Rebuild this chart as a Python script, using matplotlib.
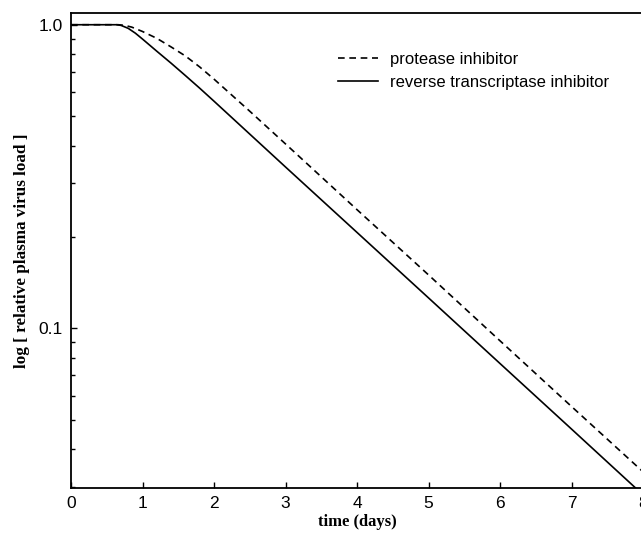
import matplotlib
matplotlib.use("Agg")
import matplotlib.pyplot as plt
from matplotlib.ticker import FixedLocator, FixedFormatter, NullFormatter

# values
t_pi = [0, 0.66, 0.75, 0.85, 1.0, 1.2, 1.4, 1.6, 1.8, 2.0, 2.5, 3.0, 4.0, 5.0, 6.0, 7.0, 8.0]
v_pi = [1.0, 1.0, 0.995, 0.982, 0.950, 0.902, 0.845, 0.789, 0.726, 0.662, 0.519,
        0.405, 0.246, 0.150, 0.0910, 0.0553, 0.0337]

t_rti = [0, 0.64, 0.7, 0.8, 0.9, 1.0, 1.2, 1.4, 1.6, 1.8, 2.0, 3.0, 4.0, 5.0, 6.0, 7.0, 8.0]
v_rti = [1.0, 1.0, 0.995, 0.973, 0.938, 0.897, 0.818, 0.747, 0.680, 0.618, 0.560,
         0.340, 0.207, 0.126, 0.0766, 0.0466, 0.0283]

labels = ["protease inhibitor", "reverse transcriptase inhibitor"]
xticks = [0, 1, 2, 3, 4, 5, 6, 7, 8]
yticks = [0.1, 1.0]
yticklabels = ["0.1", "1.0"]

plt.rcParams["font.family"] = ["Liberation Sans", "DejaVu Sans"]

fig = plt.figure(figsize=(6.41, 5.33), dpi=100)
W, H = 641, 533
ax = fig.add_axes([71 / W, (H - 488) / H, 572 / W, 475 / H])

ax.plot(t_pi, v_pi, color="black", lw=1.2, dashes=(4, 2.8), label=labels[0])
ax.plot(t_rti, v_rti, color="black", lw=1.2, label=labels[1])

ax.set_yscale("log")
ax.set_xlim(0, 8)
ax.set_ylim(0.0298, 1.093)

ax.set_xticks(xticks)
ax.yaxis.set_major_locator(FixedLocator(yticks))
ax.yaxis.set_major_formatter(FixedFormatter(yticklabels))
minors = [0.03, 0.04, 0.05, 0.06, 0.07, 0.08, 0.09,
          0.2, 0.3, 0.4, 0.5, 0.6, 0.7, 0.8, 0.9]
ax.yaxis.set_minor_locator(FixedLocator(minors))
ax.yaxis.set_minor_formatter(NullFormatter())

ax.tick_params(which="both", direction="in", top=False, right=False,
               labelsize=12.5, width=1.0, pad=6)
ax.tick_params(which="major", length=4)
ax.tick_params(which="minor", length=3)
for s in ax.spines.values():
    s.set_linewidth(1.3)

ax.set_xlabel("time (days)", family="Liberation Serif", fontweight="bold",
              fontsize=12, labelpad=2)
ax.set_ylabel("log [ relative plasma virus load ]", family="Liberation Serif",
              fontweight="bold", fontsize=12.3, labelpad=6)

ax.legend(loc="upper left", bbox_to_anchor=(338 / W, 1 - 52 / H),
          bbox_transform=fig.transFigure, frameon=False, fontsize=12,
          handlelength=2.4, handletextpad=0.75, labelspacing=0.45,
          borderpad=0, borderaxespad=0)

fig.savefig("out.png", dpi=100)
